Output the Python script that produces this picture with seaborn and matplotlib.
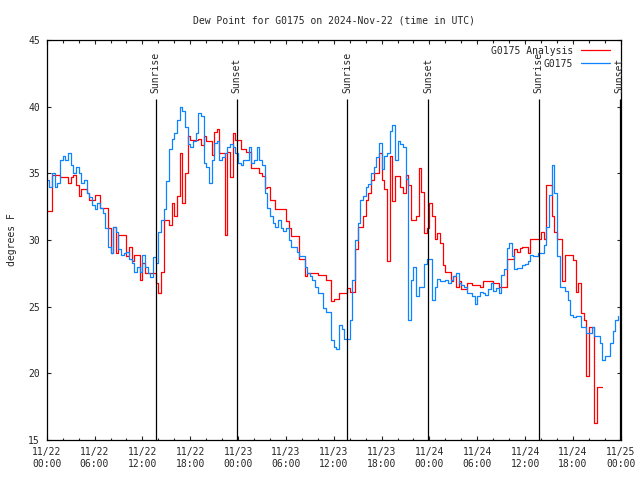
import numpy as np
import pandas as pd
import matplotlib
matplotlib.use("Agg")
import matplotlib.pyplot as plt
import matplotlib.dates as mdates
import seaborn as sns

# dew point readings, 20 minute spacing from 2024-11-22 00:00 UTC
station_dewpt = [
    34.5, 34.0, 35.0, 34.0, 34.3, 36.0, 36.3, 36.0, 36.5, 35.6, 35.0, 35.5,  # 0-3h
    35.0, 34.3, 34.5, 33.5, 33.2, 32.6, 32.3, 32.8, 32.4, 32.0, 30.9, 29.5,  # 4-7h
    29.0, 31.0, 30.6, 29.3, 28.9, 29.0, 29.1, 28.6, 28.3, 27.6, 28.0, 27.6,  # 8-11h
    28.9, 28.0, 27.5, 27.2, 28.7, 28.3, 30.6, 31.5, 32.3, 34.4, 36.8, 37.6,  # 12-15h
    38.0, 39.0, 40.0, 39.7, 38.5, 37.2, 37.0, 37.4, 38.0, 39.5, 39.3, 35.8,  # 16-19h
    35.5, 34.3, 36.0, 37.3, 37.4, 36.0, 36.2, 36.5, 37.0, 37.2, 37.0, 36.5,  # 20-23h
    35.8, 35.6, 36.0, 36.0, 37.0, 35.8, 36.0, 37.0, 36.0, 35.6, 33.5, 32.4,  # 24-27h
    31.8, 31.3, 31.0, 31.5, 30.9, 30.7, 30.9, 30.0, 29.5, 29.5, 29.1, 28.8,  # 28-31h
    28.8, 28.0, 27.5, 27.3, 27.0, 26.5, 26.0, 26.0, 24.9, 24.6, 24.6, 22.5,  # 32-35h
    22.0, 21.8, 23.6, 23.3, 22.6, 22.6, 24.0, 27.0, 30.0, 31.3, 33.0, 33.3,  # 36-39h
    34.0, 34.2, 35.0, 35.5, 36.2, 37.3, 35.3, 36.3, 36.5, 38.2, 38.6, 36.0,  # 40-43h
    37.4, 37.2, 37.0, 34.6, 24.0, 27.0, 28.0, 25.8, 26.5, 26.5, 28.2, 28.6,  # 44-47h
    28.6, 25.5, 26.5, 27.1, 26.9, 26.9, 27.0, 26.8, 27.0, 27.3, 27.5, 26.8,  # 48-51h
    26.6, 26.5, 26.0, 26.0, 25.8, 25.2, 25.8, 26.1, 26.0, 25.9, 26.3, 26.8,  # 52-55h
    26.2, 26.4, 26.0, 27.4, 27.8, 29.4, 29.8, 28.8, 27.8, 27.9, 27.9, 28.1,  # 56-59h
    28.2, 28.4, 28.9, 28.8, 28.8, 29.0, 29.0, 29.6, 31.0, 33.4, 35.6, 33.5,  # 60-63h
    28.8, 26.5, 26.5, 26.2, 25.5, 24.4, 24.2, 24.3, 24.3, 23.5, 23.5, 23.0,  # 64-67h
    23.0, 23.5, 22.8, 22.8, 22.3, 21.0, 21.3, 21.3, 22.3, 23.2, 24.0, 24.3,  # 68-71h
]

analysis_dewpt = [
    32.2, 32.2, 34.9, 34.9, 34.9, 34.7, 34.7, 34.7, 34.3, 34.7, 34.9, 34.1,
    33.3, 33.8, 33.8, 33.5, 33.0, 33.0, 33.4, 33.4, 32.4, 32.4, 32.4, 30.9,
    29.0, 31.0, 29.0, 30.4, 30.4, 30.4, 28.8, 29.5, 28.4, 28.9, 28.9, 27.0,
    28.3, 27.5, 27.5, 27.5, 27.5, 26.8, 26.0, 27.6, 31.5, 31.5, 31.1, 32.8,
    31.8, 33.3, 36.5, 32.8, 35.0, 37.8, 37.5, 37.5, 37.5, 37.6, 37.1, 37.8,
    37.4, 37.4, 36.4, 38.1, 38.3, 36.5, 36.5, 30.4, 36.6, 34.7, 38.0, 37.5,
    37.5, 36.8, 36.8, 36.6, 36.6, 35.4, 35.4, 35.4, 35.0, 34.8, 33.9, 34.0,
    33.0, 33.0, 32.3, 32.3, 32.3, 32.3, 31.4, 30.9, 30.3, 30.3, 30.3, 28.6,
    28.6, 27.3, 27.5, 27.5, 27.5, 27.5, 27.4, 27.4, 27.4, 27.0, 27.0, 25.4,
    25.6, 25.6, 26.0, 26.0, 26.0, 26.4, 26.1, 26.1, 29.3, 31.0, 31.0, 31.8,
    33.0, 33.5, 34.5, 35.0, 35.0, 36.5, 34.5, 33.8, 28.4, 36.3, 32.9, 34.8,
    34.8, 34.0, 33.5, 34.9, 34.1, 31.5, 31.5, 31.8, 35.4, 33.6, 30.5, 30.9,
    32.8, 31.8, 30.1, 30.5, 29.8, 28.1, 27.6, 27.6, 26.9, 27.3, 26.5, 26.9,
    26.3, 26.3, 26.8, 26.8, 26.6, 26.6, 26.6, 26.5, 26.9, 26.9, 26.9, 26.9,
    26.8, 26.8, 26.5, 26.5, 26.5, 28.6, 28.6, 28.6, 29.3, 29.1, 29.4, 29.5,
    29.5, 29.0, 30.1, 30.1, 30.1, 30.1, 30.6, 30.1, 34.1, 34.1, 31.8, 30.6,
    30.1, 30.1, 26.9, 28.9, 28.9, 28.9, 28.5, 26.1, 26.8, 24.5, 24.0, 19.8,
    23.5, 23.5, 16.3, 19.0, 19.0, 19.0,
]

sunrise = ["2024-11-22 13:39", "2024-11-23 13:40", "2024-11-24 13:41"]
sunset = ["2024-11-22 23:49", "2024-11-23 23:50", "2024-11-24 23:51"]

start = pd.Timestamp("2024-11-22 00:00")
df_obs = pd.DataFrame({
    "time": pd.date_range(start, periods=len(station_dewpt), freq="20min"),
    "dewpt": station_dewpt,
})
df_ana = pd.DataFrame({
    "time": pd.date_range(start, periods=len(analysis_dewpt), freq="20min"),
    "dewpt": analysis_dewpt,
})

sns.set_style("ticks")
plt.rcParams["font.family"] = "DejaVu Sans Mono"
plt.rcParams["font.size"] = 7

fig, ax = plt.subplots(figsize=(6.4, 4.8), dpi=100)
fig.subplots_adjust(left=0.073, right=0.970, bottom=0.0833, top=0.9167)

sns.lineplot(data=df_ana, x="time", y="dewpt", ax=ax, color="#ff0000",
             drawstyle="steps-post", linewidth=0.9, label="G0175 Analysis")
sns.lineplot(data=df_obs, x="time", y="dewpt", ax=ax, color="#0c84ff",
             drawstyle="steps-post", linewidth=0.9, label="G0175")

# sunrise / sunset markers
for lab, times in [("Sunrise", sunrise), ("Sunset", sunset)]:
    for t in pd.to_datetime(times):
        ax.vlines(t, 15, 40.55, color="black", linewidth=0.9, zorder=3)
        ax.text(t, 41.05, lab, rotation=90, ha="center", va="bottom", fontsize=7)

ax.set_xlim(start, pd.Timestamp("2024-11-25 00:00"))
ax.set_ylim(15, 45)
ax.set_yticks(np.arange(15, 46, 5))
ax.xaxis.set_major_locator(mdates.HourLocator(byhour=[0, 6, 12, 18]))
ax.xaxis.set_minor_locator(mdates.HourLocator(interval=2))
ax.xaxis.set_major_formatter(mdates.DateFormatter("%m/%d\n%H:%M"))

ax.tick_params(which="both", direction="in", top=True, right=True, width=0.8, labelsize=7)
ax.tick_params(which="major", length=3.2, pad=5)
ax.tick_params(which="minor", length=1.8)
for s in ax.spines.values():
    s.set_linewidth(0.9)
    s.set_color("black")

ax.set_xlabel("")
ax.set_ylabel("degrees F", fontsize=7, labelpad=8)
ax.set_title("Dew Point for G0175 on 2024-Nov-22 (time in UTC)", fontsize=7, pad=12)

ax.legend(loc="upper right", bbox_to_anchor=(0.9913, 1.0), frameon=False,
          markerfirst=False, fontsize=7, handlelength=3.0, handletextpad=0.8,
          labelspacing=0.3, borderaxespad=0.2)

fig.savefig("out.png", dpi=100)
